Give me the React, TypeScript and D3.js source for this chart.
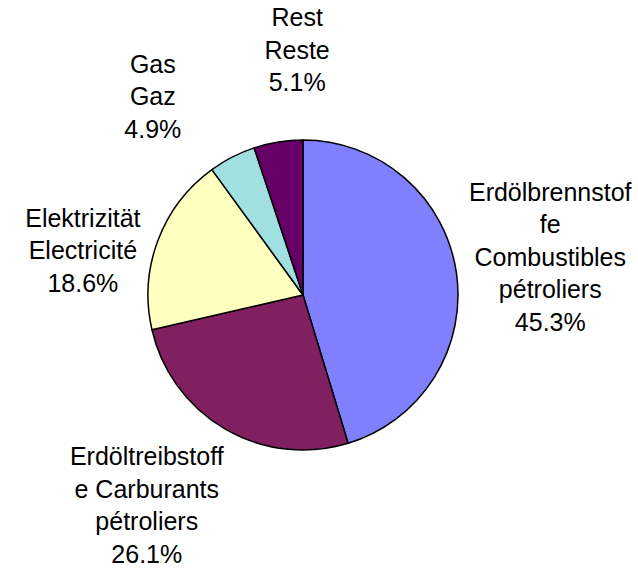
import React, { useEffect, useRef } from 'react';
import * as d3 from 'd3';

// shares in percent, clockwise from 12 o'clock
const categories = ['Erdölbrennstoffe', 'Erdöltreibstoffe', 'Elektrizität', 'Gas', 'Rest'];
const values = [45.3, 26.1, 18.6, 4.9, 5.1];
const labelLines = [
  ['Erdölbrennstof', 'fe', 'Combustibles', 'pétroliers'],
  ['Erdöltreibstoff', 'e Carburants', 'pétroliers'],
  ['Elektrizität', 'Electricité'],
  ['Gas', 'Gaz'],
  ['Rest', 'Reste'],
];
const colors = ['#8080FF', '#802060', '#FFFFC0', '#A0E0E0', '#660066'];

// small nudges so labels sit like Excel puts them
const labelNudge = [
  [0, -1],
  [-31, -6],
  [14, 43],
  [-36, 24],
  [34, 2],
];

function App() {
  const ref = useRef<SVGSVGElement>(null);
  const width = 638;
  const height = 570;
  const cx = 303;
  const cy = 295;
  const radius = 155;
  const labelRadius = 250;
  const lineHeight = 32.5;

  useEffect(() => {
    const svg = d3.select(ref.current);
    svg.selectAll('*').remove();

    const data = categories.map((c, i) => ({ name: c, value: values[i], idx: i }));

    const pie = d3
      .pie<any>()
      .sort(null)
      .value((d) => d.value);
    const arcs = pie(data);

    const arcGen = d3.arc<any>().innerRadius(0).outerRadius(radius);
    const labelArc = d3.arc<any>().innerRadius(labelRadius).outerRadius(labelRadius);

    const g = svg.append('g').attr('transform', `translate(${cx}, ${cy})`);

    g.selectAll('path')
      .data(arcs)
      .enter()
      .append('path')
      .attr('d', arcGen)
      .style('fill', (d) => colors[d.data.idx])
      .style('stroke', '#000')
      .style('stroke-width', 1.5)
      .style('stroke-linejoin', 'round');

    // labels
    arcs.forEach((d) => {
      const i = d.data.idx;
      const [x, y] = labelArc.centroid(d);
      const lines = [...labelLines[i], `${d3.format('.1f')(values[i])}%`];
      const lx = x + labelNudge[i][0];
      const ly = y + labelNudge[i][1];
      const top = ly - ((lines.length - 1) * lineHeight) / 2;
      const t = g
        .append('text')
        .attr('text-anchor', 'middle')
        .style('font-family', '"Liberation Sans", Arial, sans-serif')
        .style('font-size', '25px')
        .style('fill', '#000');
      lines.forEach((ln, k) => {
        t.append('tspan')
          .attr('x', lx)
          .attr('y', top + k * lineHeight)
          .attr('dy', '0.35em')
          .text(ln);
      });
    });
  }, []);

  return (
    <svg
      ref={ref}
      width={width}
      height={height}
      style={{ position: 'absolute', left: 0, top: 0, background: '#fff' }}
    />
  );
}

export default App;
